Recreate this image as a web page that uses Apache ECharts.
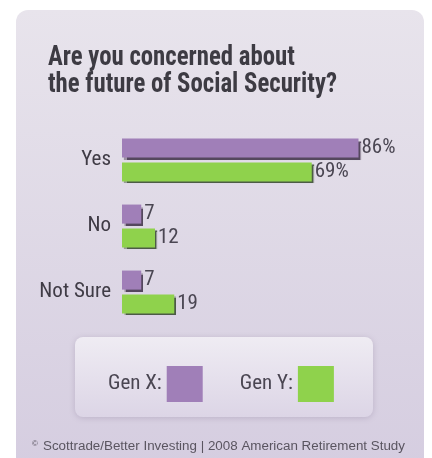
<!DOCTYPE html>
<html>
<head>
<meta charset="utf-8">
<script src="https://cdn.jsdelivr.net/npm/echarts@6/dist/echarts.min.js"></script>
<style>
html,body{margin:0;padding:0;background:#fff;}
#c{width:432px;height:458px;}
</style>
</head>
<body>
<div id="c"></div>
<script>
var categories = ['Yes', 'No', 'Not Sure'];
var genX = [86, 7, 7];
var genY = [69, 12, 19];
var seriesNames = ['Gen X', 'Gen Y'];
var titleLines = ['Are you concerned about', 'the future of Social Security?'];
var footerText = 'Scottrade/Better Investing | 2008 American Retirement Study';

var COND = '"Roboto Condensed", "DejaVu Sans Condensed", sans-serif';
var ctx = document.createElement('canvas').getContext('2d');
function fitScale(font, text, target) {
  ctx.font = font;
  return target / ctx.measureText(text).width;
}
var titleFont = 'bold 28px "Roboto Condensed", "DejaVu Sans Condensed", sans-serif';
var titleScale = fitScale(titleFont, titleLines[1], 289);
var footFont = '12px "Liberation Sans", Arial, sans-serif';
var footScale = fitScale(footFont, footerText, 362);

var chart = echarts.init(document.getElementById('c'), null, {renderer: 'canvas'});

function lbl(p) {
  return p.dataIndex === 0 ? p.value + '%' : String(p.value);
}

chart.setOption({
  animation: false,
  graphic: [
    {
      type: 'rect', z: -10, silent: true,
      shape: {x: 16, y: 10, width: 408, height: 460, r: [12, 12, 0, 0]},
      style: {
        fill: new echarts.graphic.LinearGradient(0, 0, 0, 1, [
          {offset: 0, color: '#e8e4ec'},
          {offset: 1, color: '#d5cde0'}
        ])
      }
    },
    {
      type: 'rect', z: -5, silent: true,
      shape: {x: 75, y: 337, width: 298, height: 80, r: 8},
      style: {
        fill: new echarts.graphic.LinearGradient(0, 0, 0, 1, [
          {offset: 0, color: '#efecf3'},
          {offset: 1, color: '#dcd5e6'}
        ]),
        shadowBlur: 6, shadowColor: 'rgba(60,40,80,0.18)', shadowOffsetY: 1
      }
    },
    {
      type: 'text', silent: true, x: 48, y: 44, scaleX: titleScale,
      style: {
        x: 0, y: 0, text: titleLines.join('\n'), align: 'left', verticalAlign: 'top',
        fill: '#3d3b43', font: titleFont, lineHeight: 27
      }
    },
    {
      type: 'text', silent: true, x: 32, y: 444,
      style: {
        x: 0, y: 0, text: '\u00A9', align: 'left', verticalAlign: 'middle',
        fill: '#5a5560', font: '8px "Liberation Sans", Arial, sans-serif'
      }
    },
    {
      type: 'text', silent: true, x: 43, y: 447, scaleX: footScale,
      style: {
        x: 0, y: 0, text: footerText, align: 'left', verticalAlign: 'middle',
        fill: '#5a5560', font: footFont
      }
    }
  ],
  legend: {
    left: 103, top: 361,
    align: 'right',
    icon: 'rect',
    itemWidth: 36, itemHeight: 36,
    itemGap: 37,
    formatter: '{name}:',
    textStyle: {fontFamily: COND, fontSize: 21, color: '#4a4652'},
    data: seriesNames
  },
  grid: {left: 122, top: 127, width: 275, height: 198, containLabel: false},
  xAxis: {
    type: 'value', min: 0, max: 100, show: false
  },
  yAxis: {
    type: 'category', inverse: true, data: categories,
    axisLine: {show: false}, axisTick: {show: false},
    axisLabel: {margin: 11, fontFamily: COND, fontSize: 21, color: '#3f3b45'}
  },
  series: [
    {
      name: seriesNames[0], type: 'bar', data: genX,
      barGap: '25%', barCategoryGap: '35%',
      itemStyle: {
        color: '#a07fb8',
        shadowColor: 'rgba(50,35,60,0.8)', shadowOffsetX: 2, shadowOffsetY: 2, shadowBlur: 1
      },
      label: {
        show: true, position: 'right', distance: 3, formatter: lbl,
        fontFamily: COND, fontSize: 21, color: '#4a4652'
      }
    },
    {
      name: seriesNames[1], type: 'bar', data: genY,
      barGap: '25%', barCategoryGap: '35%',
      itemStyle: {
        color: '#8fd24c',
        shadowColor: 'rgba(40,60,30,0.8)', shadowOffsetX: 2, shadowOffsetY: 2, shadowBlur: 1
      },
      label: {
        show: true, position: 'right', distance: 3, formatter: lbl,
        fontFamily: COND, fontSize: 21, color: '#4a4652'
      }
    }
  ]
});
</script>
</body>
</html>
